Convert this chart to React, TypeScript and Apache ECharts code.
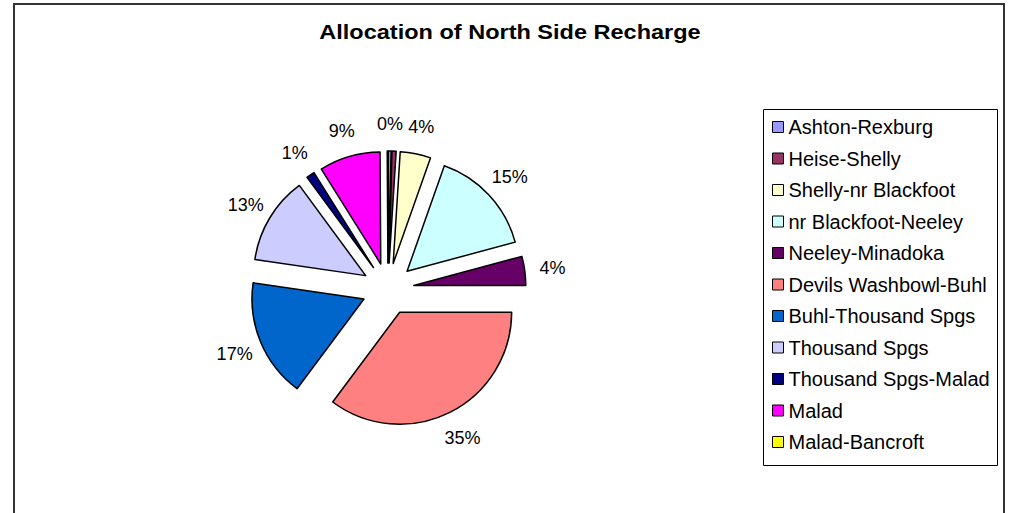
import React, { useEffect, useRef } from "react";
import * as echarts from "echarts";

const categories = [
  "Ashton-Rexburg",
  "Heise-Shelly",
  "Shelly-nr Blackfoot",
  "nr Blackfoot-Neeley",
  "Neeley-Minadoka",
  "Devils Washbowl-Buhl",
  "Buhl-Thousand Spgs",
  "Thousand Spgs",
  "Thousand Spgs-Malad",
  "Malad",
  "Malad-Bancroft",
];

const shares = [0.4, 0.6, 4.4, 15.4, 4.2, 35.2, 17.1, 12.6, 1.2, 8.8, 0.1];

const colors = [
  "#9999FF",
  "#993366",
  "#FFFFCC",
  "#CCFFFF",
  "#660066",
  "#FF8080",
  "#0066CC",
  "#CCCCFF",
  "#000080",
  "#FF00FF",
  "#FFFF00",
];

const titleText = "Allocation of North Side Recharge";

const FONT = "'Liberation Sans', Arial, Helvetica, sans-serif";

export default function App() {
  const ref = useRef<HTMLDivElement>(null);

  useEffect(() => {
    if (!ref.current) return;
    const chart = echarts.init(ref.current, null, { renderer: "svg" });
    const slices = categories.map((name, i) => ({
      name,
      value: shares[i],
      selected: true,
      itemStyle: { color: colors[i] },
    }));
    const labelRing = categories.map((name, i) => ({
      name,
      value: shares[i],
    }));
    chart.setOption({
      animation: false,
      backgroundColor: "#ffffff",
      graphic: [
        {
          type: "rect",
          shape: { x: 14, y: 4, width: 990, height: 600 },
          style: { fill: "none", stroke: "#333", lineWidth: 2 },
          silent: true,
        },
        {
          type: "rect",
          shape: { x: 763.5, y: 109.5, width: 234, height: 356 },
          style: { fill: "#fff", stroke: "#000", lineWidth: 1 },
          silent: true,
          z: -1,
        },
        {
          type: "text",
          x: 510,
          y: 32,
          scaleX: 1.12,
          silent: true,
          style: {
            text: titleText,
            fontFamily: FONT,
            fontSize: 21,
            fontWeight: "bold",
            fill: "#000",
            textAlign: "center",
            textVerticalAlign: "middle",
          },
        },
      ],
      legend: {
        orient: "vertical",
        left: 772,
        top: 117,
        padding: 0,
        itemWidth: 11,
        itemHeight: 11,
        itemGap: 11.5,
        icon: "rect",
        selectedMode: false,
        data: categories,
        itemStyle: { borderColor: "#000", borderWidth: 1 },
        textStyle: {
          fontFamily: FONT,
          fontSize: 20,
          lineHeight: 20,
          color: "#000",
        },
      },
      series: [
        {
          type: "pie",
          center: [388, 289],
          radius: 112,
          startAngle: 90,
          clockwise: true,
          selectedMode: "multiple",
          selectedOffset: 26,
          avoidLabelOverlap: false,
          emphasis: { disabled: true },
          itemStyle: { borderColor: "#000", borderWidth: 1.5 },
          label: { show: false },
          labelLine: { show: false },
          data: slices,
        },
        {
          type: "pie",
          center: [388, 290],
          radius: [157, 169],
          startAngle: 90,
          clockwise: true,
          silent: true,
          avoidLabelOverlap: false,
          minShowLabelAngle: 0,
          percentPrecision: 2,
          emphasis: { disabled: true },
          itemStyle: { color: "rgba(0,0,0,0)", borderWidth: 0 },
          label: {
            show: true,
            position: "inside",
            overflow: "none",
            fontFamily: FONT,
            fontSize: 18,
            color: "#000",
            formatter: (p: any) => Math.round(p.percent) + "%",
          },
          labelLine: { show: false },
          data: labelRing,
        },
      ],
    });
    return () => chart.dispose();
  }, []);

  return (
    <div
      ref={ref}
      style={{ position: "fixed", left: 0, top: 0, width: 1011, height: 513 }}
    />
  );
}
